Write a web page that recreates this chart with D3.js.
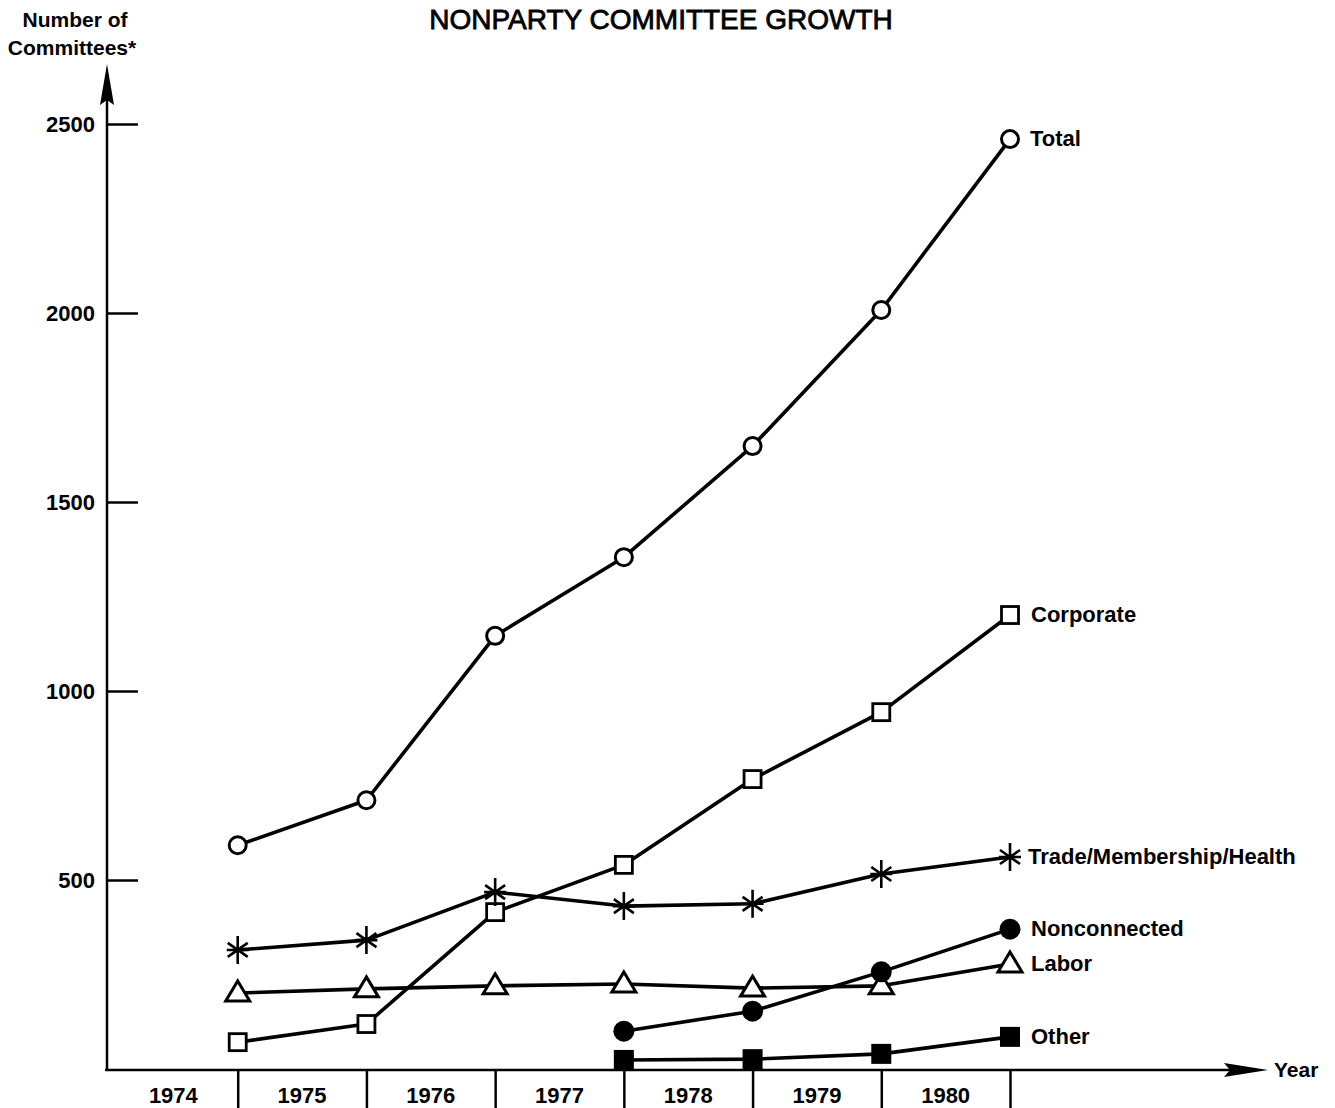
<!DOCTYPE html>
<html>
<head>
<meta charset="utf-8">
<script src="https://cdn.jsdelivr.net/npm/d3@7"></script>
<style>
  html, body { margin: 0; padding: 0; background: #fff; }
  svg { display: block; }
  text { font-family: "Liberation Sans", Arial, Helvetica, sans-serif; fill: #000; }
</style>
</head>
<body>
<div id="chart"></div>
<script>
// ---- data ----
const yearLabels = [1974, 1975, 1976, 1977, 1978, 1979, 1980];
const yTicks = [500, 1000, 1500, 2000, 2500];
// data points recorded at the end of each year
const pointYears = [1974, 1975, 1976, 1977, 1978, 1979, 1980];
const totalVals = [592, 711, 1146, 1354, 1648, 2008, 2460];
const corporateVals = [71, 119, 415, 540, 767, 944, 1201];
const tradeVals = [315, 341, 468, 431, 437, 516, 561];
const laborVals = [201, 212, 220, 225, 214, 220, 278];
const nonconnectedYears = [1977, 1978, 1979, 1980];
const nonconnectedVals = [100, 153, 257, 370];
const otherYears = [1977, 1978, 1979, 1980];
const otherVals = [24, 26, 40, 85];

const series = [
  { name: "Total", years: pointYears, values: totalVals, marker: "openCircle" },
  { name: "Corporate", years: pointYears, values: corporateVals, marker: "openSquare" },
  { name: "Trade/Membership/Health", years: pointYears, values: tradeVals, marker: "asterisk" },
  { name: "Labor", years: pointYears, values: laborVals, marker: "openTriangle" },
  { name: "Nonconnected", years: nonconnectedYears, values: nonconnectedVals, marker: "filledCircle" },
  { name: "Other", years: otherYears, values: otherVals, marker: "filledSquare" }
];

// ---- layout ----
const W = 1335, H = 1108;
const svg = d3.select("#chart").append("svg").attr("width", W).attr("height", H);

const x = d3.scaleLinear().domain([1974, 1981]).range([109, 1010]);
const y = d3.scaleLinear().domain([0, 2500]).range([1069, 124]);

// title
svg.append("text").attr("x", 661).attr("y", 29).attr("text-anchor", "middle")
  .attr("font-size", 28).attr("font-weight", "normal")
  .attr("stroke", "#000").attr("stroke-width", 0.8)
  .text("NONPARTY COMMITTEE GROWTH");

// y-axis title
svg.append("text").attr("x", 75).attr("y", 27).attr("text-anchor", "middle")
  .attr("font-size", 21).attr("font-weight", "bold").text("Number of");
svg.append("text").attr("x", 72).attr("y", 55).attr("text-anchor", "middle")
  .attr("font-size", 21).attr("font-weight", "bold").text("Committees*");

// y axis line + arrow
const axisG = svg.append("g");
axisG.append("line").attr("x1", 107).attr("x2", 107).attr("y1", 1070).attr("y2", 95)
  .attr("stroke", "#000").attr("stroke-width", 2.5);
axisG.append("path").attr("d", "M107,64 L100,105 L107,100 L114,105 Z").attr("fill", "#000");

// y ticks via d3 axis
const yAxis = d3.axisRight(y).tickValues(yTicks).tickSize(31).tickFormat("");
const yAxisG = svg.append("g").attr("transform", "translate(107,0)").call(yAxis);
yAxisG.select(".domain").remove();
yAxisG.selectAll(".tick line").attr("stroke", "#000").attr("stroke-width", 2.5);
svg.append("g").selectAll("text").data(yTicks).join("text")
  .attr("x", 95).attr("y", d => y(d) + 8).attr("text-anchor", "end")
  .attr("font-size", 22).attr("font-weight", "bold").text(d => d);

// x axis line + arrow
axisG.append("line").attr("x1", 105).attr("x2", 1240).attr("y1", 1070).attr("y2", 1070)
  .attr("stroke", "#000").attr("stroke-width", 2.5);
axisG.append("path").attr("d", "M1268,1070 L1224,1063 L1230,1070 L1224,1077 Z").attr("fill", "#000");
svg.append("text").attr("x", 1274).attr("y", 1077).attr("font-size", 21).attr("font-weight", "bold").text("Year");

// x ticks (year boundaries) below axis
const xAxis = d3.axisBottom(x).tickValues(yearLabels.map(d => d + 1)).tickSize(40).tickFormat("");
const xAxisG = svg.append("g").attr("transform", "translate(0,1069)").call(xAxis);
xAxisG.select(".domain").remove();
xAxisG.selectAll(".tick line").attr("stroke", "#000").attr("stroke-width", 2.5);
svg.append("g").selectAll("text").data(yearLabels).join("text")
  .attr("x", d => x(d + 0.5)).attr("y", 1103).attr("text-anchor", "middle")
  .attr("font-size", 22).attr("font-weight", "bold").text(d => d);

// lines
const line = d3.line().x(d => x(d[0] + 1)).y(d => y(d[1]));
series.forEach(s => {
  const pts = s.years.map((yr, i) => [yr, s.values[i]]);
  svg.append("path").datum(pts).attr("d", line)
    .attr("fill", "none").attr("stroke", "#000").attr("stroke-width", 3.6)
    .attr("stroke-linejoin", "round");
});

// markers
function drawMarker(g, type, cx, cy) {
  if (type === "openCircle") {
    g.append("circle").attr("cx", cx).attr("cy", cy).attr("r", 8.5)
      .attr("fill", "#fff").attr("stroke", "#000").attr("stroke-width", 3);
  } else if (type === "filledCircle") {
    g.append("circle").attr("cx", cx).attr("cy", cy).attr("r", 10.5).attr("fill", "#000");
  } else if (type === "openSquare") {
    g.append("rect").attr("x", cx - 8.5).attr("y", cy - 8.5).attr("width", 17).attr("height", 17)
      .attr("fill", "#fff").attr("stroke", "#000").attr("stroke-width", 2.8);
  } else if (type === "filledSquare") {
    g.append("rect").attr("x", cx - 10).attr("y", cy - 10).attr("width", 20).attr("height", 20).attr("fill", "#000");
  } else if (type === "openTriangle") {
    g.append("path").attr("d", `M${cx},${cy - 12} L${cx + 12},${cy + 8} L${cx - 12},${cy + 8} Z`)
      .attr("fill", "#fff").attr("stroke", "#000").attr("stroke-width", 3).attr("stroke-linejoin", "miter");
  } else if (type === "asterisk") {
    const p = `M${cx},${cy - 14} L${cx},${cy + 14} M${cx - 11},${cy} L${cx + 11},${cy} ` +
      `M${cx - 10},${cy - 7} L${cx + 10},${cy + 7} M${cx - 10},${cy + 7} L${cx + 10},${cy - 7}`;
    g.append("path").attr("d", p).attr("stroke", "#000").attr("stroke-width", 2.6).attr("fill", "none");
  }
}
const markerG = svg.append("g");
series.forEach(s => {
  s.years.forEach((yr, i) => drawMarker(markerG, s.marker, x(yr + 1), y(s.values[i])));
});

// series labels at last point
const labelOffsets = { "Total": 20, "Corporate": 21, "Trade/Membership/Health": 18, "Labor": 21, "Nonconnected": 21, "Other": 21 };
series.forEach(s => {
  const last = s.values.length - 1;
  svg.append("text").attr("x", x(s.years[last] + 1) + labelOffsets[s.name])
    .attr("y", y(s.values[last]) + 7).attr("font-size", 22).attr("font-weight", "bold")
    .text(s.name);
});
</script>
</body>
</html>
